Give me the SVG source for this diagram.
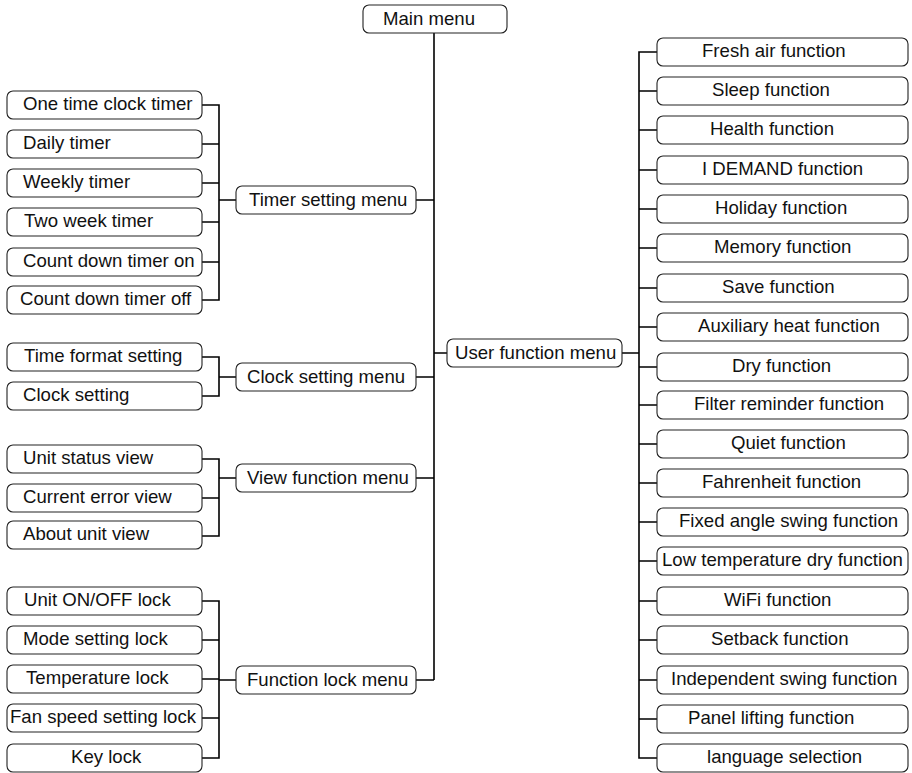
<svg xmlns="http://www.w3.org/2000/svg" width="912" height="773" viewBox="0 0 912 773">
<style>
.b{fill:#fff;stroke:#222;stroke-width:1.1}
.t{font-family:"Liberation Sans",Arial,sans-serif;font-size:18.6px;fill:#111}
.c{fill:none;stroke:#000;stroke-width:1.6}
</style>
<rect width="912" height="773" fill="#fff"/>
<g id="connectors" class="c">
<path d="M434 33V680"/>
<path d="M416 200H434M416 377H434M416 478H434M416 680H434M434 353H447"/>
<path d="M202 105H219V300H202M202 144H219M202 183H219M202 222H219M202 262H219M219 200H236"/>
<path d="M202 357H219V396H202M219 377H236"/>
<path d="M202 459H219V536H202M202 498H219M219 478H236"/>
<path d="M202 601H219V758H202M202 640H219M202 679H219M202 718H219M219 680H236"/>
<path d="M622 353H639M657 52H639V758H657M639 91H657M639 130H657M639 170H657M639 209H657M639 248H657M639 288H657M639 327H657M639 367H657M639 405H657M639 444H657M639 483H657M639 522H657M639 561H657M639 601H657M639 640H657M639 680H657M639 719H657"/>
</g>
<g id="main-menu"><rect class="b" x="363" y="5" width="144" height="28" rx="6"/><text class="t" x="383" y="25">Main menu</text></g>
<g id="timer-setting-menu"><rect class="b" x="236" y="186" width="180" height="28" rx="6"/><text class="t" x="249" y="206">Timer setting menu</text></g>
<g id="clock-setting-menu"><rect class="b" x="236" y="363" width="180" height="28" rx="6"/><text class="t" x="247" y="383">Clock setting menu</text></g>
<g id="view-function-menu"><rect class="b" x="236" y="464" width="180" height="28" rx="6"/><text class="t" x="247" y="484">View function menu</text></g>
<g id="function-lock-menu"><rect class="b" x="236" y="666" width="180" height="28" rx="6"/><text class="t" x="247" y="686">Function lock menu</text></g>
<g id="user-function-menu"><rect class="b" x="447" y="339" width="175" height="28" rx="6"/><text class="t" x="455" y="359">User function menu</text></g>

<g id="one-time-clock-timer"><rect class="b" x="7" y="91" width="195" height="28" rx="6"/><text class="t" x="23" y="110">One time clock timer</text></g>
<g id="daily-timer"><rect class="b" x="7" y="130" width="195" height="28" rx="6"/><text class="t" x="23" y="149">Daily timer</text></g>
<g id="weekly-timer"><rect class="b" x="7" y="169" width="195" height="28" rx="6"/><text class="t" x="23" y="188">Weekly timer</text></g>
<g id="two-week-timer"><rect class="b" x="7" y="208" width="195" height="28" rx="6"/><text class="t" x="24" y="227">Two week timer</text></g>
<g id="count-down-timer-on"><rect class="b" x="7" y="248" width="195" height="28" rx="6"/><text class="t" x="23" y="267">Count down timer on</text></g>
<g id="count-down-timer-off"><rect class="b" x="7" y="286" width="195" height="28" rx="6"/><text class="t" x="20" y="305">Count down timer off</text></g>

<g id="time-format-setting"><rect class="b" x="7" y="343" width="195" height="28" rx="6"/><text class="t" x="24" y="362">Time format setting</text></g>
<g id="clock-setting"><rect class="b" x="7" y="382" width="195" height="28" rx="6"/><text class="t" x="23" y="401">Clock setting</text></g>

<g id="unit-status-view"><rect class="b" x="7" y="445" width="195" height="28" rx="6"/><text class="t" x="23" y="464">Unit status view</text></g>
<g id="current-error-view"><rect class="b" x="7" y="484" width="195" height="28" rx="6"/><text class="t" x="23" y="503">Current error view</text></g>
<g id="about-unit-view"><rect class="b" x="7" y="521" width="195" height="28" rx="6"/><text class="t" x="23" y="540">About unit view</text></g>

<g id="unit-onoff-lock"><rect class="b" x="7" y="587" width="195" height="28" rx="6"/><text class="t" x="24" y="606">Unit ON/OFF lock</text></g>
<g id="mode-setting-lock"><rect class="b" x="7" y="626" width="195" height="28" rx="6"/><text class="t" x="23" y="645">Mode setting lock</text></g>
<g id="temperature-lock"><rect class="b" x="7" y="665" width="195" height="28" rx="6"/><text class="t" x="26" y="684">Temperature lock</text></g>
<g id="fan-speed-setting-lock"><rect class="b" x="7" y="704" width="195" height="28" rx="6"/><text class="t" x="10" y="723">Fan speed setting lock</text></g>
<g id="key-lock"><rect class="b" x="7" y="744" width="195" height="28" rx="6"/><text class="t" x="71" y="763">Key lock</text></g>

<g id="fresh-air-function"><rect class="b" x="657" y="38" width="251" height="28" rx="6"/><text class="t" x="702" y="57">Fresh air function</text></g>
<g id="sleep-function"><rect class="b" x="657" y="77" width="251" height="28" rx="6"/><text class="t" x="712" y="96">Sleep function</text></g>
<g id="health-function"><rect class="b" x="657" y="116" width="251" height="28" rx="6"/><text class="t" x="710" y="135">Health function</text></g>
<g id="idemand-function"><rect class="b" x="657" y="156" width="251" height="28" rx="6"/><text class="t" x="702" y="175">I DEMAND function</text></g>
<g id="holiday-function"><rect class="b" x="657" y="195" width="251" height="28" rx="6"/><text class="t" x="715" y="214">Holiday function</text></g>
<g id="memory-function"><rect class="b" x="657" y="234" width="251" height="28" rx="6"/><text class="t" x="714" y="253">Memory function</text></g>
<g id="save-function"><rect class="b" x="657" y="274" width="251" height="28" rx="6"/><text class="t" x="722" y="293">Save function</text></g>
<g id="auxiliary-heat-function"><rect class="b" x="657" y="313" width="251" height="28" rx="6"/><text class="t" x="698" y="332">Auxiliary heat function</text></g>
<g id="dry-function"><rect class="b" x="657" y="353" width="251" height="28" rx="6"/><text class="t" x="732" y="372">Dry function</text></g>
<g id="filter-reminder-function"><rect class="b" x="657" y="391" width="251" height="28" rx="6"/><text class="t" x="694" y="410">Filter reminder function</text></g>
<g id="quiet-function"><rect class="b" x="657" y="430" width="251" height="28" rx="6"/><text class="t" x="731" y="449">Quiet function</text></g>
<g id="fahrenheit-function"><rect class="b" x="657" y="469" width="251" height="28" rx="6"/><text class="t" x="702" y="488">Fahrenheit function</text></g>
<g id="fixed-angle-swing-function"><rect class="b" x="657" y="508" width="251" height="28" rx="6"/><text class="t" x="679" y="527">Fixed angle swing function</text></g>
<g id="low-temperature-dry-function"><rect class="b" x="657" y="547" width="251" height="28" rx="6"/><text class="t" x="662" y="566">Low temperature dry function</text></g>
<g id="wifi-function"><rect class="b" x="657" y="587" width="251" height="28" rx="6"/><text class="t" x="724" y="606">WiFi function</text></g>
<g id="setback-function"><rect class="b" x="657" y="626" width="251" height="28" rx="6"/><text class="t" x="711" y="645">Setback function</text></g>
<g id="independent-swing-function"><rect class="b" x="657" y="666" width="251" height="28" rx="6"/><text class="t" x="671" y="685">Independent swing function</text></g>
<g id="panel-lifting-function"><rect class="b" x="657" y="705" width="251" height="28" rx="6"/><text class="t" x="688" y="724">Panel lifting function</text></g>
<g id="language-selection"><rect class="b" x="657" y="744" width="251" height="28" rx="6"/><text class="t" x="707" y="763">language selection</text></g>
</svg>
